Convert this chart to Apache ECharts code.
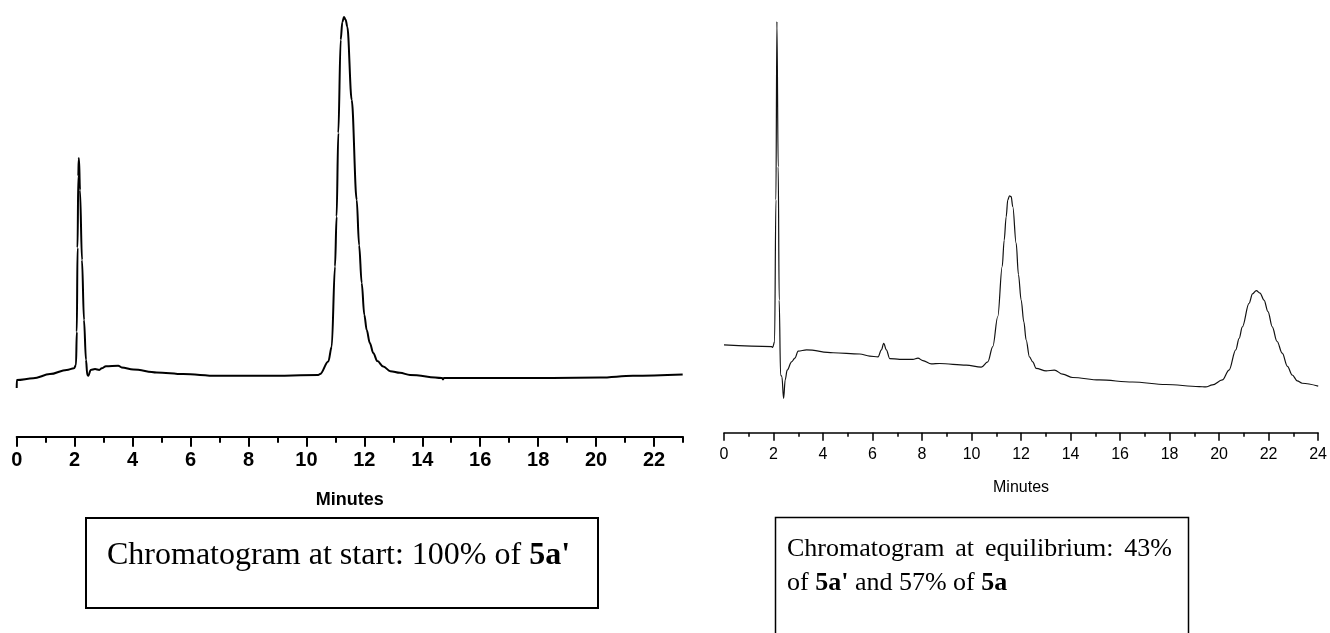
<!DOCTYPE html>
<html><head><meta charset="utf-8">
<script src="https://cdn.jsdelivr.net/npm/echarts@6/dist/echarts.min.js"></script>
<style>html,body{margin:0;padding:0;background:#fff;}#c{width:1330px;height:633px;}</style>
</head><body><div id="c"></div>
<script>
// Chromatogram at start (minutes, relative signal)
const startTime = [0, 0.005, 0.573, 1.149, 1.726, 1.978, 2.047, 2.075, 2.100, 2.126, 2.140, 2.150, 2.185, 2.254, 2.323, 2.392, 2.437, 2.472, 2.554, 2.703, 2.851, 2.934, 3.082, 3.507, 3.624, 4.025, 4.833, 5.751, 6.904, 8.630, 10.411, 10.470, 10.756, 10.873, 10.987, 11.043, 11.101, 11.184, 11.240, 11.298, 11.355, 11.412, 11.564, 11.736, 11.820, 11.909, 12.000, 12.082, 12.190, 12.309, 12.450, 12.654, 12.900, 13.231, 13.576, 14.680, 14.715, 14.750, 16.683, 18.500, 20.135, 21.274, 22.989];
const startSignal = [11.6, 13.5, 13.9, 14.9, 15.9, 16.3, 17.1, 25.0, 45.0, 62.0, 66.0, 66.3, 58.7, 42.1, 27.8, 18.3, 14.7, 14.5, 15.9, 16.1, 15.9, 16.3, 16.8, 16.9, 16.5, 16.0, 15.3, 14.9, 14.5, 14.5, 14.7, 14.9, 17.9, 21.4, 40.5, 52.4, 72.3, 94.5, 98.7, 99.9, 99.3, 97.6, 80.2, 56.4, 45.6, 36.6, 29.0, 25.4, 22.3, 19.9, 18.0, 16.7, 15.6, 15.2, 14.7, 14.0, 13.6, 14.0, 14.0, 14.0, 14.1, 14.5, 14.8];

// Chromatogram at equilibrium
const eqTime = [0, 1.923, 1.964, 2.044, 2.097, 2.137, 2.190, 2.230, 2.286, 2.339, 2.407, 2.472, 2.552, 2.730, 2.863, 2.996, 3.335, 4.407, 5.484, 5.887, 6.222, 6.359, 6.452, 6.560, 6.694, 7.097, 7.633, 7.835, 8.036, 8.375, 8.710, 9.786, 10.391, 10.657, 10.859, 11.060, 11.238, 11.318, 11.399, 11.464, 11.532, 11.601, 11.665, 11.802, 11.895, 12.004, 12.113, 12.206, 12.339, 12.472, 12.609, 13.012, 13.347, 13.681, 14.085, 15.161, 16.504, 17.851, 19.194, 19.460, 19.730, 20.133, 20.403, 20.673, 20.810, 20.940, 21.210, 21.351, 21.504, 21.653, 21.815, 21.976, 22.149, 22.339, 22.552, 22.762, 22.956, 23.157, 23.359, 24.004];
const eqSignal = [21.3, 20.9, 20.7, 22.1, 56.5, 99.8, 64.5, 32.2, 14.0, 13.6, 8.3, 12.8, 15.2, 17.2, 18.1, 19.8, 20.1, 19.4, 19.1, 18.6, 18.4, 20.1, 21.7, 20.1, 18.0, 17.8, 17.8, 18.1, 17.5, 16.7, 16.8, 16.4, 15.9, 17.2, 20.9, 28.2, 40.3, 46.7, 52.4, 56.5, 57.5, 57.3, 54.9, 46.0, 38.4, 32.2, 26.9, 22.5, 18.4, 17.2, 15.6, 15.0, 15.2, 14.2, 13.4, 12.8, 12.3, 11.7, 11.2, 11.1, 11.6, 12.8, 15.2, 20.1, 22.9, 25.7, 31.4, 33.7, 34.5, 33.9, 32.2, 29.4, 25.7, 22.2, 19.3, 16.1, 14.0, 12.6, 12.0, 11.3];

const startMajorTicks = [0, 2, 4, 6, 8, 10, 12, 14, 16, 18, 20, 22];
const startMinorTicks = [1, 3, 5, 7, 9, 11, 13, 15, 17, 19, 21, 23];
const eqTickStep = 2;
const axisTitle = 'Minutes';
const startCaption = ['Chromatogram at start: 100% of ', "5a'"];
const eqCaptionLine1 = ['Chromatogram', 'at', 'equilibrium:', '43%'];
const eqCaptionLine2 = ['of ', "5a'", ' and 57% of ', '5a'];

const zip = (a, b) => a.map((v, i) => [v, b[i]]);
const SANS = '"Liberation Sans", Arial, sans-serif';
const SERIF = '"Liberation Serif", "Times New Roman", serif';

const chart = echarts.init(document.getElementById('c'), null, {renderer: 'canvas'});

// justified first line of right caption
const ctx = document.createElement('canvas').getContext('2d');
const capSize = 26;
ctx.font = capSize + 'px "Liberation Serif"';
const jLeft = 787, jRight = 1172;
const widths = eqCaptionLine1.map(w => ctx.measureText(w).width);
const gap = (jRight - jLeft - widths.reduce((s, w) => s + w, 0)) / (eqCaptionLine1.length - 1);
let cx = jLeft;
const line1Els = eqCaptionLine1.map((w, i) => {
  const el = {type: 'text', x: cx, y: 549, style: {text: w, font: capSize + 'px ' + SERIF, fill: '#000', verticalAlign: 'middle', align: 'left'}};
  cx += widths[i] + gap;
  return el;
});

const option = {
  animation: false,
  backgroundColor: '#fff',
  grid: [
    {left: 16.7, right: 647, top: 16.7, bottom: 196.3},
    {left: 724, right: 10.7, top: 20.7, bottom: 200.3}
  ],
  xAxis: [
    {
      type: 'value', gridIndex: 0, min: 0, max: 23, position: 'bottom',
      axisLine: {lineStyle: {color: '#000', width: 2}},
      axisTick: {customValues: startMajorTicks, length: 10, lineStyle: {color: '#000', width: 2}},
      axisLabel: {customValues: startMajorTicks, color: '#000', fontFamily: SANS, fontWeight: 'bold', fontSize: 20, margin: 14},
      splitLine: {show: false},
      name: axisTitle, nameLocation: 'middle', nameGap: 54,
      nameTextStyle: {color: '#000', fontFamily: SANS, fontWeight: 'bold', fontSize: 18}
    },
    {
      type: 'value', gridIndex: 0, min: 0, max: 23, position: 'bottom',
      axisLine: {show: false},
      axisTick: {customValues: startMinorTicks, length: 6, lineStyle: {color: '#000', width: 2}},
      axisLabel: {show: false},
      splitLine: {show: false}
    },
    {
      type: 'value', gridIndex: 1, min: 0, max: 24, interval: eqTickStep, position: 'bottom',
      axisLine: {lineStyle: {color: '#000', width: 1.5}},
      axisTick: {length: 8, lineStyle: {color: '#000', width: 1.5}},
      minorTick: {show: true, splitNumber: 2, length: 4, lineStyle: {color: '#000', width: 1.5}},
      axisLabel: {color: '#000', fontFamily: SANS, fontSize: 16, margin: 14},
      splitLine: {show: false}, minorSplitLine: {show: false},
      name: axisTitle, nameLocation: 'middle', nameGap: 47,
      nameTextStyle: {color: '#000', fontFamily: SANS, fontSize: 16}
    }
  ],
  yAxis: [
    {type: 'value', gridIndex: 0, min: 0, max: 100, show: false},
    {type: 'value', gridIndex: 1, min: 0, max: 100, show: false}
  ],
  series: [
    {type: 'line', xAxisIndex: 0, yAxisIndex: 0, data: zip(startTime, startSignal), showSymbol: false, smooth: 0.35, smoothMonotone: 'x', lineStyle: {color: '#000', width: 2}},
    {type: 'line', xAxisIndex: 2, yAxisIndex: 1, data: zip(eqTime, eqSignal), showSymbol: false, smooth: 0.35, smoothMonotone: 'x', lineStyle: {color: '#111', width: 1.2}}
  ],
  graphic: [
    {type: 'rect', shape: {x: 86, y: 518, width: 512, height: 90}, style: {fill: null, stroke: '#000', lineWidth: 2}},
    {type: 'text', x: 107, y: 556, style: {
      text: '{n|' + startCaption[0] + '}{b|' + startCaption[1] + '}',
      verticalAlign: 'middle', align: 'left',
      rich: {n: {fontFamily: SERIF, fontSize: 32, fill: '#000'}, b: {fontFamily: SERIF, fontSize: 32, fontWeight: 'bold', fill: '#000'}}
    }},
    {type: 'polyline', shape: {points: [[775.5, 640], [775.5, 517.5], [1188.5, 517.5], [1188.5, 640]]}, style: {fill: null, stroke: '#000', lineWidth: 1.5}},
    ...line1Els,
    {type: 'text', x: jLeft, y: 583, style: {
      text: '{n|' + eqCaptionLine2[0] + '}{b|' + eqCaptionLine2[1] + '}{n|' + eqCaptionLine2[2] + '}{b|' + eqCaptionLine2[3] + '}',
      verticalAlign: 'middle', align: 'left',
      rich: {n: {fontFamily: SERIF, fontSize: capSize, fill: '#000'}, b: {fontFamily: SERIF, fontSize: capSize, fontWeight: 'bold', fill: '#000'}}
    }}
  ]
};
chart.setOption(option);
</script>
</body></html>
